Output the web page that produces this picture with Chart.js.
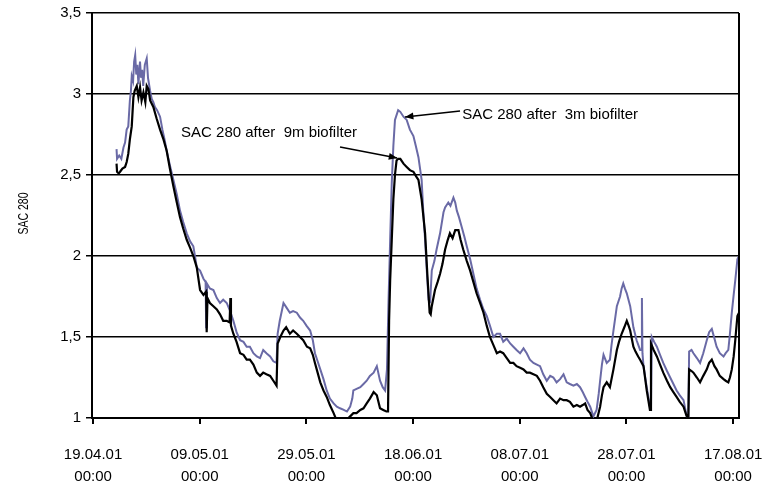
<!DOCTYPE html>
<html>
<head>
<meta charset="utf-8">
<script src="https://cdn.jsdelivr.net/npm/chart.js@4/dist/chart.umd.min.js"></script>
<style>
  html, body { margin: 0; padding: 0; background: #fff; }
  #wrap { width: 767px; height: 484px; position: relative; }
</style>
</head>
<body>
<div id="wrap"><canvas id="sacChart"></canvas></div>
<script>
// Dias desde 19.04.01 00:00
const tickDays = [0, 20, 40, 60, 80, 100, 120];
const tickLabels = [
    ['19.04.01', '00:00'], ['09.05.01', '00:00'], ['29.05.01', '00:00'], ['18.06.01', '00:00'],
    ['08.07.01', '00:00'], ['28.07.01', '00:00'], ['17.08.01', '00:00']
];
const yTicks = [1, 1.5, 2, 2.5, 3, 3.5];

// SAC 280 after 3m biofilter
const days3m = [4.4, 4.5, 4.9, 5.3, 5.7, 6.0, 6.3, 6.6, 6.9, 7.1, 7.25, 7.5, 7.7, 7.9, 8.1, 8.3, 8.5, 8.8, 9.0, 9.2,
    9.4, 9.7, 10.06, 10.3, 10.69, 11.0, 11.3, 11.6, 12.0, 12.56, 13.0, 13.4, 13.8, 14.4, 15.06, 15.7, 16.3, 16.9, 17.56, 18.2,
    18.8, 19.1, 19.44, 20.06, 20.7, 21.1, 21.2, 21.35, 21.9, 22.56, 23.2, 23.8, 24.4, 25.06, 25.7, 26.3, 26.9, 27.56, 28.2, 28.8,
    29.4, 30.06, 30.7, 31.3, 31.9, 32.5, 33.2, 33.8, 34.4, 34.6, 35.0, 35.7, 36.3, 36.9, 37.5, 38.2, 38.8, 39.4, 40.0, 40.7,
    41.2, 41.6, 42.1, 42.6, 43.2, 43.8, 44.4, 45.1, 45.7, 46.3, 47.0, 47.6, 48.2, 48.6, 48.8, 49.4, 50.1, 50.7, 51.3, 51.9,
    52.6, 53.2, 53.8, 54.3, 54.75, 55.1, 55.4, 55.7, 56.0, 56.3, 56.6, 57.2, 57.6, 58.2, 58.8, 59.4, 60.06, 60.5, 61.0, 61.6,
    61.9, 62.25, 62.6, 62.9, 63.2, 63.5, 64.0, 64.4, 65.06, 65.7, 66.0, 66.6, 67.0, 67.56, 67.9, 68.2, 68.6, 69.1, 69.6, 70.06,
    70.7, 71.3, 71.9, 72.56, 73.2, 73.8, 74.4, 75.06, 75.7, 76.3, 76.9, 77.56, 78.2, 78.8, 79.4, 80.06, 80.7, 81.3, 81.9, 82.56,
    83.2, 83.8, 84.4, 85.06, 85.7, 86.3, 86.9, 87.56, 88.2, 88.8, 89.4, 90.06, 90.7, 91.3, 91.8, 92.25, 92.7, 93.2, 93.8, 94.4,
    94.8, 95.06, 95.4, 95.7, 96.3, 96.9, 97.2, 97.56, 98.2, 98.8, 99.1, 99.4, 99.7, 100.06, 100.7, 101.3, 101.9, 102.56, 102.8, 102.9,
    103.0, 103.2, 103.8, 104.4, 104.6, 104.75, 105.2, 105.7, 106.3, 106.9, 107.6, 108.2, 108.8, 109.4, 110.0, 110.7, 111.3, 111.6, 111.75, 112.2,
    112.56, 113.2, 113.8, 114.4, 115.06, 115.5, 116.0, 116.5, 116.9, 117.5, 118.2, 118.6, 119.1, 119.4, 119.75, 120.1, 120.4, 120.8, 121.1];
const sac3m = [2.66, 2.60, 2.62, 2.60, 2.67, 2.70, 2.78, 2.80, 2.96, 3.02, 3.11, 3.08, 3.20, 3.24, 3.12, 3.18, 3.06, 3.20, 3.10, 3.15,
    3.05, 3.18, 3.22, 3.10, 3.02, 2.97, 2.95, 2.92, 2.90, 2.86, 2.78, 2.72, 2.65, 2.56, 2.47, 2.38, 2.28, 2.21, 2.14, 2.09,
    2.06, 2.00, 1.93, 1.91, 1.86, 1.84, 1.56, 1.83, 1.80, 1.79, 1.74, 1.71, 1.73, 1.71, 1.66, 1.60, 1.53, 1.48, 1.47, 1.44,
    1.44, 1.40, 1.38, 1.37, 1.42, 1.40, 1.38, 1.35, 1.34, 1.52, 1.60, 1.71, 1.68, 1.65, 1.66, 1.65, 1.62, 1.60, 1.57, 1.54,
    1.48, 1.40, 1.35, 1.30, 1.24, 1.17, 1.12, 1.09, 1.07, 1.06, 1.05, 1.04, 1.07, 1.12, 1.17, 1.18, 1.19, 1.21, 1.23, 1.26,
    1.28, 1.32, 1.23, 1.19, 1.17, 1.30, 1.73, 2.10, 2.45, 2.68, 2.84, 2.90, 2.89, 2.86, 2.84, 2.78, 2.74, 2.68, 2.61, 2.47,
    2.28, 2.10, 1.89, 1.73, 1.72, 1.91, 1.97, 2.04, 2.14, 2.27, 2.30, 2.33, 2.31, 2.36, 2.33, 2.28, 2.24, 2.18, 2.12, 2.06,
    1.98, 1.89, 1.80, 1.73, 1.67, 1.63, 1.57, 1.50, 1.52, 1.52, 1.47, 1.49, 1.46, 1.44, 1.42, 1.40, 1.43, 1.40, 1.36, 1.34,
    1.33, 1.32, 1.27, 1.23, 1.26, 1.25, 1.22, 1.24, 1.27, 1.22, 1.21, 1.20, 1.21, 1.19, 1.16, 1.13, 1.10, 1.07, 1.01, 1.05,
    1.15, 1.23, 1.33, 1.39, 1.34, 1.36, 1.45, 1.54, 1.69, 1.75, 1.80, 1.83, 1.80, 1.77, 1.69, 1.56, 1.48, 1.42, 1.42, 1.74,
    1.40, 1.32, 1.19, 1.07, 1.06, 1.50, 1.47, 1.44, 1.39, 1.34, 1.29, 1.25, 1.21, 1.17, 1.14, 1.11, 1.01, 1.00, 1.41, 1.42,
    1.40, 1.37, 1.34, 1.40, 1.48, 1.53, 1.55, 1.49, 1.44, 1.40, 1.38, 1.40, 1.42, 1.52, 1.65, 1.76, 1.85, 1.98, 2.00];

// SAC 280 after 9m biofilter
const days9m = [4.4, 4.5, 4.8, 5.06, 5.5, 6.0, 6.3, 6.6, 6.9, 7.25, 7.56, 7.8, 8.19, 8.5, 8.81, 9.1, 9.44, 9.8, 10.06, 10.38,
    10.7, 11.3, 11.9, 12.56, 13.2, 13.8, 14.4, 15.06, 15.7, 16.3, 16.9, 17.56, 18.2, 18.8, 19.44, 20.06, 20.7, 21.2, 21.3, 21.45,
    21.9, 22.56, 23.2, 23.8, 24.4, 25.06, 25.6, 25.75, 25.85, 26.3, 26.9, 27.56, 28.2, 28.8, 29.4, 30.06, 30.7, 31.3, 31.9, 32.5,
    33.2, 33.8, 34.4, 34.6, 35.1, 35.7, 36.2, 36.9, 37.5, 38.2, 38.8, 39.4, 40.1, 40.7, 41.2, 41.6, 42.1, 42.6, 43.2, 43.8,
    44.4, 45.1, 45.6, 46.3, 47.0, 47.6, 48.2, 48.8, 49.4, 50.1, 50.7, 51.3, 51.9, 52.6, 53.2, 53.8, 54.4, 55.0, 55.3, 55.5,
    55.7, 56.0, 56.3, 56.6, 56.9, 57.2, 57.6, 58.2, 58.8, 59.4, 60.06, 60.6, 61.0, 61.6, 62.25, 62.7, 63.1, 63.3, 63.5, 64.1,
    64.6, 65.06, 65.5, 66.0, 66.5, 66.9, 67.4, 67.9, 68.5, 68.9, 69.4, 70.06, 70.7, 71.3, 71.9, 72.56, 73.2, 73.8, 74.4, 75.06,
    75.7, 76.3, 76.9, 77.56, 78.2, 78.8, 79.4, 80.06, 80.7, 81.3, 81.9, 82.56, 83.2, 83.8, 84.4, 85.06, 85.7, 86.3, 86.9, 87.56,
    88.2, 88.8, 89.4, 90.06, 90.7, 91.3, 91.8, 92.25, 92.7, 93.2, 93.8, 94.4, 95.06, 95.4, 95.7, 96.3, 96.9, 97.56, 98.2, 98.6,
    99.1, 99.6, 100.06, 100.4, 100.7, 101.3, 101.7, 102.2, 102.56, 103.2, 103.8, 104.4, 104.5, 104.6, 105.1, 105.7, 106.3, 106.9, 107.6, 108.2,
    108.8, 109.4, 110.0, 110.7, 111.2, 111.6, 111.75, 112.2, 112.56, 113.2, 113.8, 114.4, 115.06, 115.5, 116.0, 116.5, 116.9, 117.5, 118.2, 118.6,
    119.1, 119.4, 119.75, 120.1, 120.4, 120.8, 121.1];
const sac9m = [2.57, 2.52, 2.51, 2.52, 2.54, 2.55, 2.58, 2.63, 2.72, 2.80, 2.98, 3.02, 3.05, 2.98, 3.04, 2.96, 3.01, 2.95, 3.05, 3.03,
    2.96, 2.92, 2.85, 2.78, 2.72, 2.65, 2.54, 2.43, 2.33, 2.24, 2.17, 2.10, 2.05, 2.00, 1.93, 1.79, 1.76, 1.78, 1.53, 1.74,
    1.71, 1.69, 1.67, 1.64, 1.60, 1.60, 1.59, 1.74, 1.57, 1.52, 1.47, 1.40, 1.39, 1.36, 1.36, 1.33, 1.28, 1.26, 1.28, 1.27,
    1.26, 1.23, 1.20, 1.46, 1.50, 1.54, 1.56, 1.52, 1.54, 1.52, 1.50, 1.48, 1.44, 1.43, 1.39, 1.34, 1.28, 1.22, 1.17, 1.13,
    1.08, 1.03, 0.99, 0.97, 0.97, 0.99, 1.01, 1.03, 1.03, 1.05, 1.06, 1.09, 1.12, 1.16, 1.14, 1.06, 1.05, 1.04, 1.04, 1.60,
    1.85, 2.10, 2.35, 2.50, 2.59, 2.60, 2.60, 2.57, 2.55, 2.53, 2.52, 2.49, 2.47, 2.35, 2.14, 1.87, 1.65, 1.64, 1.69, 1.79,
    1.84, 1.89, 1.95, 2.04, 2.10, 2.14, 2.11, 2.16, 2.16, 2.10, 2.04, 1.97, 1.91, 1.84, 1.77, 1.71, 1.65, 1.57, 1.50, 1.45,
    1.40, 1.41, 1.40, 1.37, 1.34, 1.34, 1.32, 1.31, 1.30, 1.28, 1.28, 1.27, 1.26, 1.23, 1.19, 1.15, 1.13, 1.11, 1.09, 1.12,
    1.11, 1.11, 1.10, 1.07, 1.08, 1.07, 1.08, 1.09, 1.05, 1.03, 0.98, 0.98, 1.07, 1.14, 1.19, 1.22, 1.19, 1.30, 1.42, 1.47,
    1.52, 1.56, 1.60, 1.57, 1.54, 1.44, 1.41, 1.38, 1.36, 1.32, 1.17, 1.05, 1.05, 1.46, 1.42, 1.38, 1.33, 1.28, 1.23, 1.19,
    1.16, 1.13, 1.10, 1.07, 1.02, 0.99, 1.30, 1.29, 1.28, 1.25, 1.22, 1.26, 1.30, 1.34, 1.36, 1.32, 1.30, 1.26, 1.24, 1.23,
    1.22, 1.25, 1.30, 1.38, 1.48, 1.63, 1.65];

const FONT = "'Liberation Sans', Arial, sans-serif";

function toPoints(xs, ys) {
    return xs.map((x, i) => ({ x: x, y: ys[i] }));
}

// Textos e setas, posicionados em coordenadas de dados
const notas = [
    { text: 'SAC 280 after  3m biofilter', tx: 69.2, ty: 2.87, from: [68.8, 2.895], to: [58.5, 2.858] },
    { text: 'SAC 280 after  9m biofilter', tx: 16.5, ty: 2.76, from: [46.3, 2.673], to: [57.0, 2.605] }
];

const notasPlugin = {
    id: 'notas',
    afterDatasetsDraw(chart) {
        const { ctx, chartArea, scales } = chart;
        const xs = scales.x, ys = scales.y;
        ctx.save();
        // borda direita
        ctx.strokeStyle = '#000';
        ctx.lineWidth = 2;
        ctx.beginPath();
        ctx.moveTo(chartArea.right, chartArea.top);
        ctx.lineTo(chartArea.right, chartArea.bottom);
        ctx.stroke();

        ctx.font = '15px ' + FONT;
        ctx.fillStyle = '#000';
        ctx.textBaseline = 'middle';
        notas.forEach(n => {
            ctx.fillText(n.text, xs.getPixelForValue(n.tx), ys.getPixelForValue(n.ty));
            const x1 = xs.getPixelForValue(n.from[0]), y1 = ys.getPixelForValue(n.from[1]);
            const x2 = xs.getPixelForValue(n.to[0]), y2 = ys.getPixelForValue(n.to[1]);
            ctx.lineWidth = 1.5;
            ctx.beginPath();
            ctx.moveTo(x1, y1);
            ctx.lineTo(x2, y2);
            ctx.stroke();
            const ang = Math.atan2(y2 - y1, x2 - x1);
            ctx.beginPath();
            ctx.moveTo(x2, y2);
            ctx.lineTo(x2 - 9 * Math.cos(ang - 0.4), y2 - 9 * Math.sin(ang - 0.4));
            ctx.lineTo(x2 - 9 * Math.cos(ang + 0.4), y2 - 9 * Math.sin(ang + 0.4));
            ctx.closePath();
            ctx.fill();
        });

        // titulo do eixo y (fonte estreita)
        ctx.save();
        ctx.translate(24, (chartArea.top + chartArea.bottom) / 2 - 2);
        ctx.rotate(-Math.PI / 2);
        ctx.scale(0.7, 1);
        ctx.font = '15px ' + FONT;
        ctx.textAlign = 'center';
        ctx.textBaseline = 'middle';
        ctx.fillText('SAC 280', 0, 0);
        ctx.restore();

        ctx.restore();
    }
};

new Chart(document.getElementById('sacChart'), {
    type: 'line',
    data: {
        datasets: [
            {
                label: 'SAC 280 after 9m biofilter',
                data: toPoints(days9m, sac9m),
                borderColor: '#000000',
                borderWidth: 2.2,
                pointRadius: 0,
                tension: 0,
                order: 1
            },
            {
                label: 'SAC 280 after 3m biofilter',
                data: toPoints(days3m, sac3m),
                borderColor: '#6a6aa6',
                borderWidth: 2,
                pointRadius: 0,
                tension: 0,
                order: 2
            }
        ]
    },
    options: {
        responsive: true,
        maintainAspectRatio: false,
        animation: false,
        layout: { padding: { left: 0, top: 13, right: 28, bottom: 0 } },
        plugins: {
            legend: { display: false },
            tooltip: { enabled: false }
        },
        scales: {
            x: {
                type: 'linear',
                min: -0.2,
                max: 121.1,
                afterBuildTicks: scale => { scale.ticks = tickDays.map(v => ({ value: v })); },
                afterFit: scale => {
                    scale.height = 66;
                    scale.paddingLeft = 0;
                    scale.paddingRight = 0;
                },
                grid: { drawOnChartArea: false, drawTicks: true, tickLength: 6, color: '#000', lineWidth: 2 },
                border: { display: true, color: '#000', width: 2 },
                ticks: {
                    autoSkip: false,
                    maxRotation: 0,
                    padding: 20,
                    color: '#000',
                    font: { family: FONT, size: 15, lineHeight: 1.45 },
                    callback: value => {
                        const i = tickDays.indexOf(value);
                        return i >= 0 ? tickLabels[i] : '';
                    }
                }
            },
            y: {
                min: 1,
                max: 3.5,
                afterBuildTicks: scale => { scale.ticks = yTicks.map(v => ({ value: v })); },
                afterFit: scale => {
                    scale.width = 92;
                    scale.paddingTop = 0;
                    scale.paddingBottom = 0;
                },
                grid: { drawOnChartArea: true, drawTicks: true, tickLength: 6, color: '#000', lineWidth: 1.5 },
                border: { display: true, color: '#000', width: 2 },
                ticks: {
                    padding: 5,
                    color: '#000',
                    font: { family: FONT, size: 15 },
                    callback: value => String(value).replace('.', ',')
                }
            }
        }
    },
    plugins: [notasPlugin]
});
</script>
</body>
</html>
